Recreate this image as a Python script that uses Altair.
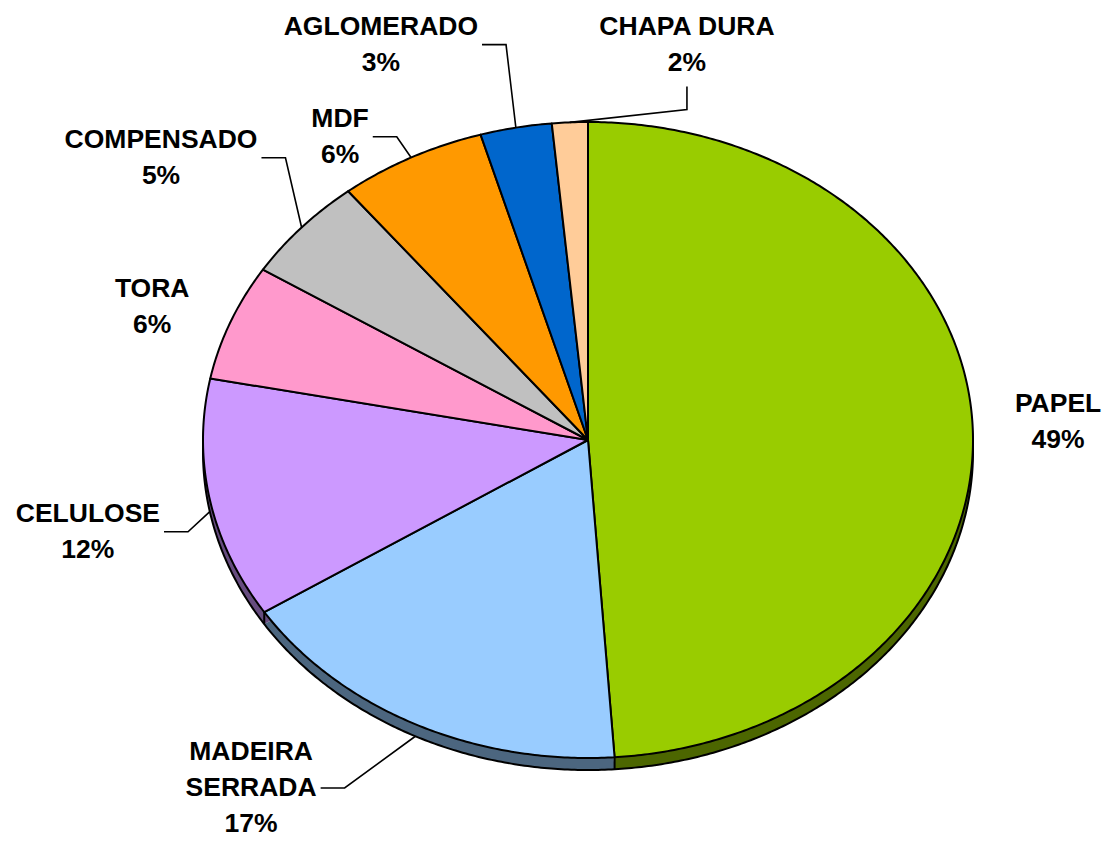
import math
import altair as alt
import pandas as pd

# ---------------- data ----------------
categories = ["PAPEL", "MADEIRA SERRADA", "CELULOSE", "TORA", "COMPENSADO", "MDF", "AGLOMERADO", "CHAPA DURA"]
shares = [48.9, 17.0, 12.2, 5.9, 5.3, 6.2, 3.0, 1.5]
label_names = ["PAPEL", "MADEIRA\nSERRADA", "CELULOSE", "TORA", "COMPENSADO", "MDF", "AGLOMERADO", "CHAPA DURA"]
colors = ["#99CC00", "#99CCFF", "#CC99FF", "#FF99CC", "#C0C0C0", "#FF9900", "#0066CC", "#FFCC99"]

# ---------------- layout (in pie-radius units, x right / y up) ----------------
label_x = [1.221, -0.875, -1.299, -1.132, -1.109, -0.644, -0.538, 0.257]
label_y = [0.113, -0.981, -0.232, 0.475, 0.944, 1.010, 1.300, 1.300]
leader_side = ["none", "right", "right", "none", "right", "right", "right", "bottom"]

W, H = 1095, 834          # svg size (page minus 8px margins on both sides)
CX, CY = 580, 432         # pie centre in svg pixels
RX, RY = 385, 318         # ellipse radii in pixels
DEPTH = 12 / RY           # 3-D thickness
LH = 36 / RY              # label line height
FONT_SIZE = 26.5
STROKE = 2.0

xs = alt.Scale(domain=[-CX / RX, (W - CX) / RX], range=[0, W], nice=False, zero=False)
ys = alt.Scale(domain=[-(H - CY) / RY, CY / RY], range=[H, 0], nice=False, zero=False)


def darker(c, f=0.5):
    r, g, b = (int(c[i:i + 2], 16) for i in (1, 3, 5))
    return "#%02X%02X%02X" % (int(r * f), int(g * f), int(b * f))


side_colors = [darker(c) for c in colors]


def pt(frac):
    t = 2 * math.pi * frac
    return math.sin(t), math.cos(t)


total = sum(shares)
starts, ends = [], []
acc = 0.0
for v in shares:
    starts.append(acc / total)
    acc += v
    ends.append(acc / total)

# slice polygons
poly_rows = []
for cat, s, e in zip(categories, starts, ends):
    n = max(2, int(math.ceil((e - s) * 720)) + 1)
    poly_rows.append({"cat": cat, "k": 0, "x": 0.0, "y": 0.0})
    for i in range(n):
        f = s + (e - s) * i / (n - 1)
        x, y = pt(f)
        poly_rows.append({"cat": cat, "k": i + 1, "x": x, "y": y})
poly = pd.DataFrame(poly_rows)
side = poly.copy()
side["y"] = side["y"] - DEPTH

# outline of the bottom ellipse
rim_rows = []
for i in range(721):
    x, y = pt(i / 720)
    rim_rows.append({"k": i, "x": x, "y": y - DEPTH})
rim = pd.DataFrame(rim_rows)

# vertical edges on the visible front
edge_rows = []
for e in ends[:-1]:
    x, y = pt(e)
    if y < 0:
        edge_rows.append({"x": x, "y": y, "y2": y - DEPTH})
edges = pd.DataFrame(edge_rows)

# labels
char_w = {"A": .722, "C": .722, "D": .722, "E": .667, "F": .611, "G": .778, "H": .722, "I": .278,
          "L": .611, "M": .833, "N": .722, "O": .778, "P": .667, "R": .722, "S": .667, "T": .611,
          "U": .722, " ": .278, "%": .889}


def text_w(s):
    return sum(char_w.get(ch, .556) for ch in s) * FONT_SIZE


text_rows = []
lead_rows = []
for i, (cat, v) in enumerate(zip(categories, shares)):
    lines = label_names[i].split("\n") + ["%d%%" % math.floor(v / total * 100 + 0.5)]
    for j, ln in enumerate(lines):
        text_rows.append({"cat": cat, "t": ln, "x": label_x[i], "y": label_y[i] - j * LH})
    side_kind = leader_side[i]
    if side_kind == "none":
        continue
    mid = (starts[i] + ends[i]) / 2
    sx, sy = pt(mid)
    if sy < 0:
        sy -= DEPTH
    if side_kind == "right":
        my = label_y[i] - (len(lines) - 1) * LH / 2
        ex = label_x[i] + (max(text_w(l) for l in lines) / 2 + 4) / RX
        bx, by = ex + 24 / RX, my
        ey = my
    else:  # bottom
        ex = label_x[i]
        ey = label_y[i] - (len(lines) - 1) * LH - 24 / RY
        bx, by = ex, ey - 23 / RY
    for k, (x, y) in enumerate([(sx, sy), (bx, by), (ex, ey)]):
        lead_rows.append({"cat": cat, "k": k, "x": x, "y": y})
texts = pd.DataFrame(text_rows)
leads = pd.DataFrame(lead_rows)

X = alt.X("x:Q", scale=xs, axis=None)
Y = alt.Y("y:Q", scale=ys, axis=None)

side_layer = alt.Chart(side).mark_line(interpolate="linear-closed", strokeWidth=0).encode(
    x=X, y=Y, order="k:Q", detail="cat:N",
    fill=alt.Fill("cat:N", scale=alt.Scale(domain=categories, range=side_colors), legend=None),
)
rim_layer = alt.Chart(rim).mark_line(stroke="black", strokeWidth=STROKE, interpolate="linear-closed").encode(
    x=X, y=Y, order="k:Q"
)
edge_layer = alt.Chart(edges).mark_rule(stroke="black", strokeWidth=STROKE).encode(
    x=X, y=Y, y2="y2:Q"
)
top_layer = alt.Chart(poly).mark_line(interpolate="linear-closed", stroke="black", strokeWidth=STROKE,
                                      strokeJoin="round").encode(
    x=X, y=Y, order="k:Q", detail="cat:N",
    fill=alt.Fill("cat:N", scale=alt.Scale(domain=categories, range=colors), legend=None),
)
lead_layer = alt.Chart(leads).mark_line(stroke="black", strokeWidth=1.6).encode(
    x=X, y=Y, order="k:Q", detail="cat:N"
)
text_layer = alt.Chart(texts).mark_text(
    font="Liberation Sans", fontWeight="bold", fontSize=FONT_SIZE, color="black",
    align="center", baseline="middle"
).encode(x=X, y=Y, text="t:N")

chart = alt.layer(side_layer, rim_layer, edge_layer, top_layer, lead_layer, text_layer).resolve_scale(
    fill="independent"
).properties(
    width=W, height=H, padding=0, autosize=alt.AutoSizeParams(type="none")
).configure_view(stroke=None)

chart.save("out.html", embed_options={"renderer": "svg", "actions": False})
